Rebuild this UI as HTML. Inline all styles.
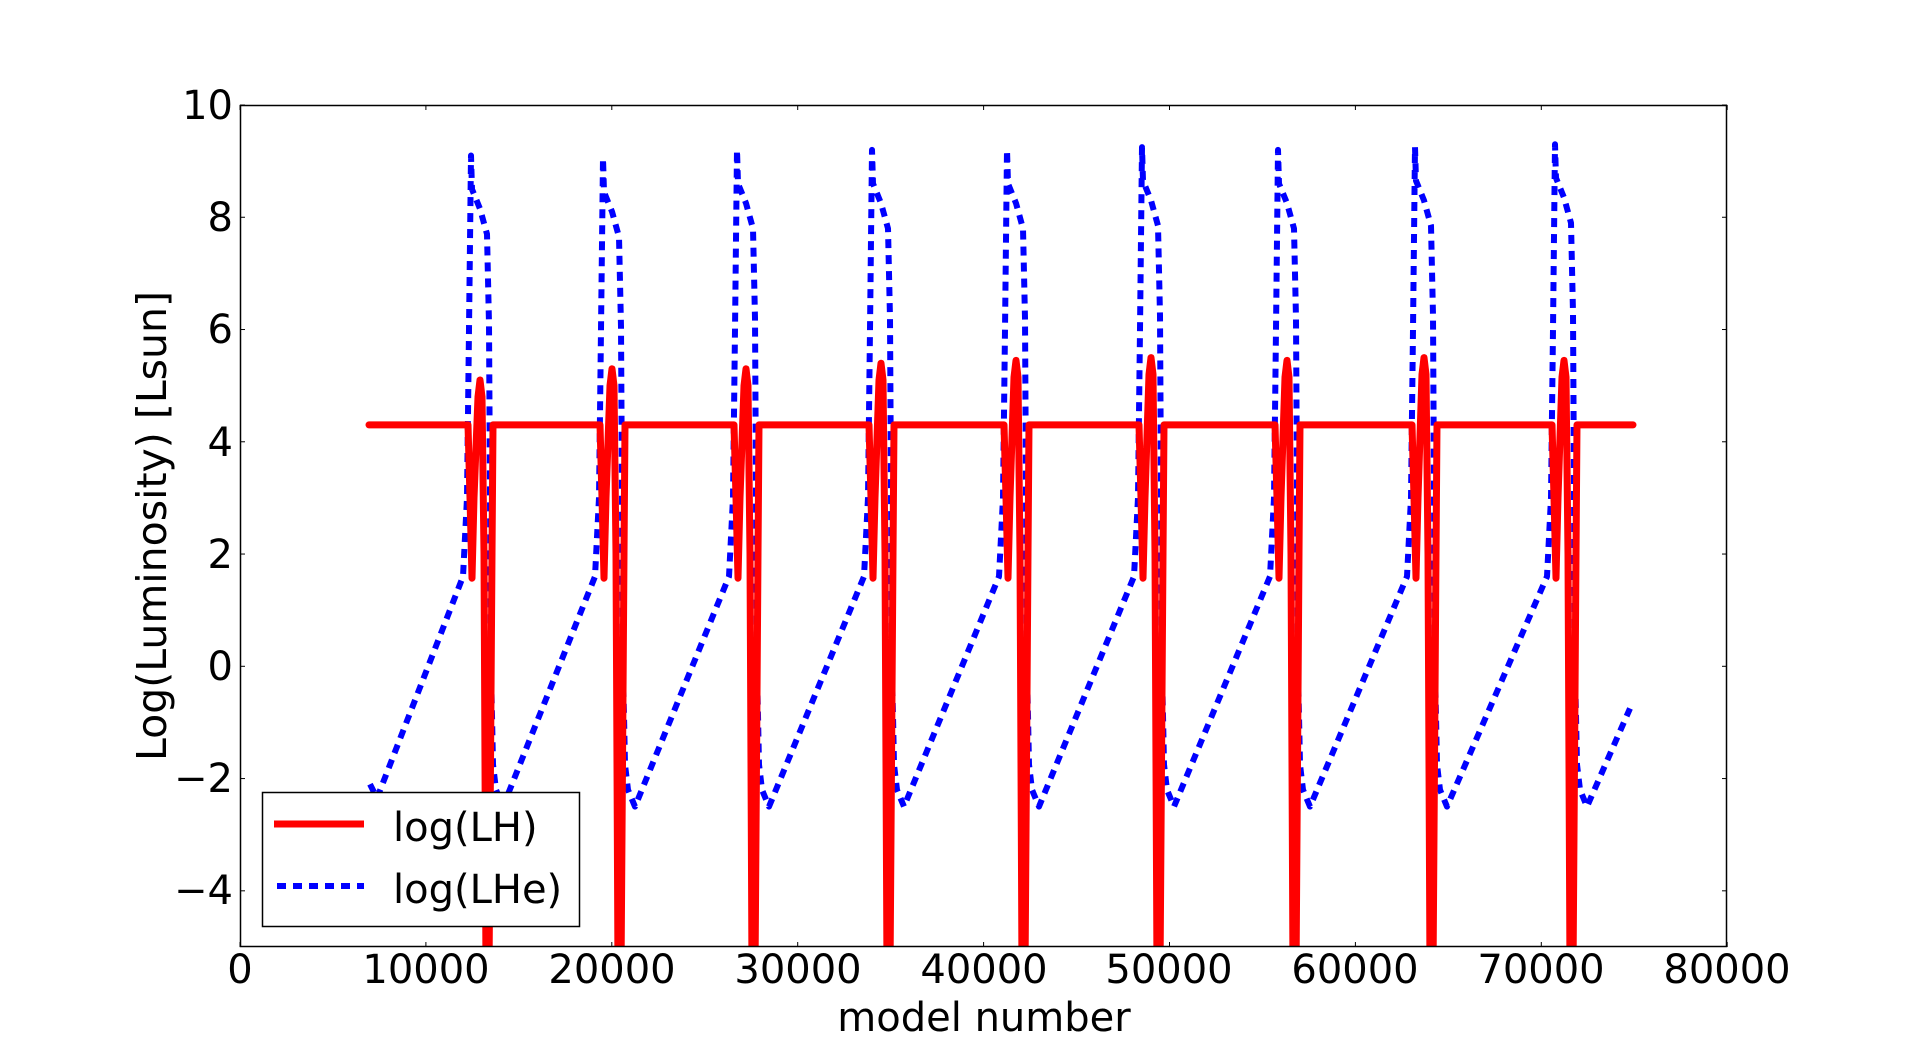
<!DOCTYPE html>
<html><head><meta charset="utf-8">
<style>
html,body{margin:0;padding:0;background:#fff;}
svg{display:block;}
text{font-family:"DejaVu Sans","Liberation Sans",sans-serif;fill:#000;}
</style></head>
<body>
<svg id="s" width="1918" height="1052" viewBox="0 0 1918 1052" xmlns="http://www.w3.org/2000/svg">
<defs><clipPath id="c"><rect x="240" y="105" width="1487" height="842"/></clipPath></defs>
<rect width="1918" height="1052" fill="#fff"/>
<g clip-path="url(#c)">
<path id="blue" fill="none" stroke="#0000ff" stroke-width="6" stroke-dasharray="9 7" stroke-linejoin="round" d=""/>
<path id="red" fill="none" stroke="#ff0000" stroke-width="7" stroke-linejoin="round" stroke-linecap="round" d=""/>
</g>
<g id="ticks" stroke="#000" stroke-width="1"></g>
<rect x="240.5" y="105.5" width="1486" height="841" fill="none" stroke="#000" stroke-width="1.5"/>
<g font-size="40" text-anchor="middle">
<text x="240" y="983">0</text>
<text x="426" y="983">10000</text>
<text x="612" y="983">20000</text>
<text x="798" y="983">30000</text>
<text x="984" y="983">40000</text>
<text x="1169" y="983">50000</text>
<text x="1355" y="983">60000</text>
<text x="1541" y="983">70000</text>
<text x="1727" y="983">80000</text>
</g>
<g font-size="40" text-anchor="end">
<text x="233" y="119">10</text>
<text x="233" y="231">8</text>
<text x="233" y="343">6</text>
<text x="233" y="456">4</text>
<text x="233" y="568">2</text>
<text x="233" y="680">0</text>
<text x="233" y="792">−2</text>
<text x="233" y="904">−4</text>
</g>
<text x="984" y="1031" font-size="40" text-anchor="middle">model number</text>
<text transform="translate(166,526) rotate(-90)" font-size="41" text-anchor="middle">Log(Luminosity) [Lsun]</text>
<rect x="262.5" y="792.5" width="317" height="134" fill="#fff" stroke="#000" stroke-width="1.5"/>
<line x1="274" y1="824" x2="364" y2="824" stroke="#ff0000" stroke-width="7"/>
<line x1="277" y1="886" x2="364" y2="886" stroke="#0000ff" stroke-width="6" stroke-dasharray="9 7"/>
<text x="393" y="841" font-size="40">log(LH)</text>
<text x="393" y="903" font-size="40">log(LHe)</text>
</svg>
<script>
(function(){
function Y(v){return 105+(10-v)*56.13;}
var P=[471,603,737,872,1007,1142,1278,1415,1555];
var H=[9.1,9.05,9.2,9.2,9.2,9.25,9.2,9.25,9.3];
var R=[5.1,5.3,5.3,5.4,5.45,5.5,5.45,5.5,5.45];
var b=[[370,Y(-2.1)],[377,Y(-2.35)]];
var r=[[369,Y(4.3)]];
for(var i=0;i<P.length;i++){
 var p=P[i],h=H[i],q=R[i];
 b.push([p-8,Y(1.6)],[p-4,Y(3)],[p-2,Y(6)],[p,Y(h)],[p+1,Y(h-0.6)],[p+9,Y(h-0.95)],[p+16,Y(h-1.4)],
  [p+18,Y(h-3)],[p+20,Y(0)],[p+22,Y(-1.75)],[p+25,Y(-2.2)],[p+32,Y(-2.5)]);
 r.push([p-3,Y(4.3)],[p-1,Y(3)],[p+1,Y(1.57)],[p+3,Y(3)],[p+7,Y(q-0.3)],[p+9,Y(q)],[p+11,Y(q-0.3)],
  [p+13,Y(2)],[p+15,Y(-5.5)],[p+18,Y(-5.5)],[p+21,Y(2)],[p+22,Y(4.3)]);
}
b.push([1630,Y(-0.75)]);
r.push([1633,Y(4.3)]);
function d(a){return 'M'+a.map(function(t){return t[0].toFixed(1)+','+t[1].toFixed(1);}).join(' L');}
document.getElementById('blue').setAttribute('d',d(b));
document.getElementById('red').setAttribute('d',d(r));
var g=document.getElementById('ticks'),s='';
for(var k=0;k<=8;k++){var x=240+k*185.9;s+='<line x1="'+x+'" y1="947" x2="'+x+'" y2="942"/><line x1="'+x+'" y1="105" x2="'+x+'" y2="110"/>';}
for(var v=-4;v<=10;v+=2){var y=Y(v);s+='<line x1="240" y1="'+y+'" x2="245" y2="'+y+'"/><line x1="1727" y1="'+y+'" x2="1722" y2="'+y+'"/>';}
g.innerHTML=s;
})();
</script>
</body></html>
